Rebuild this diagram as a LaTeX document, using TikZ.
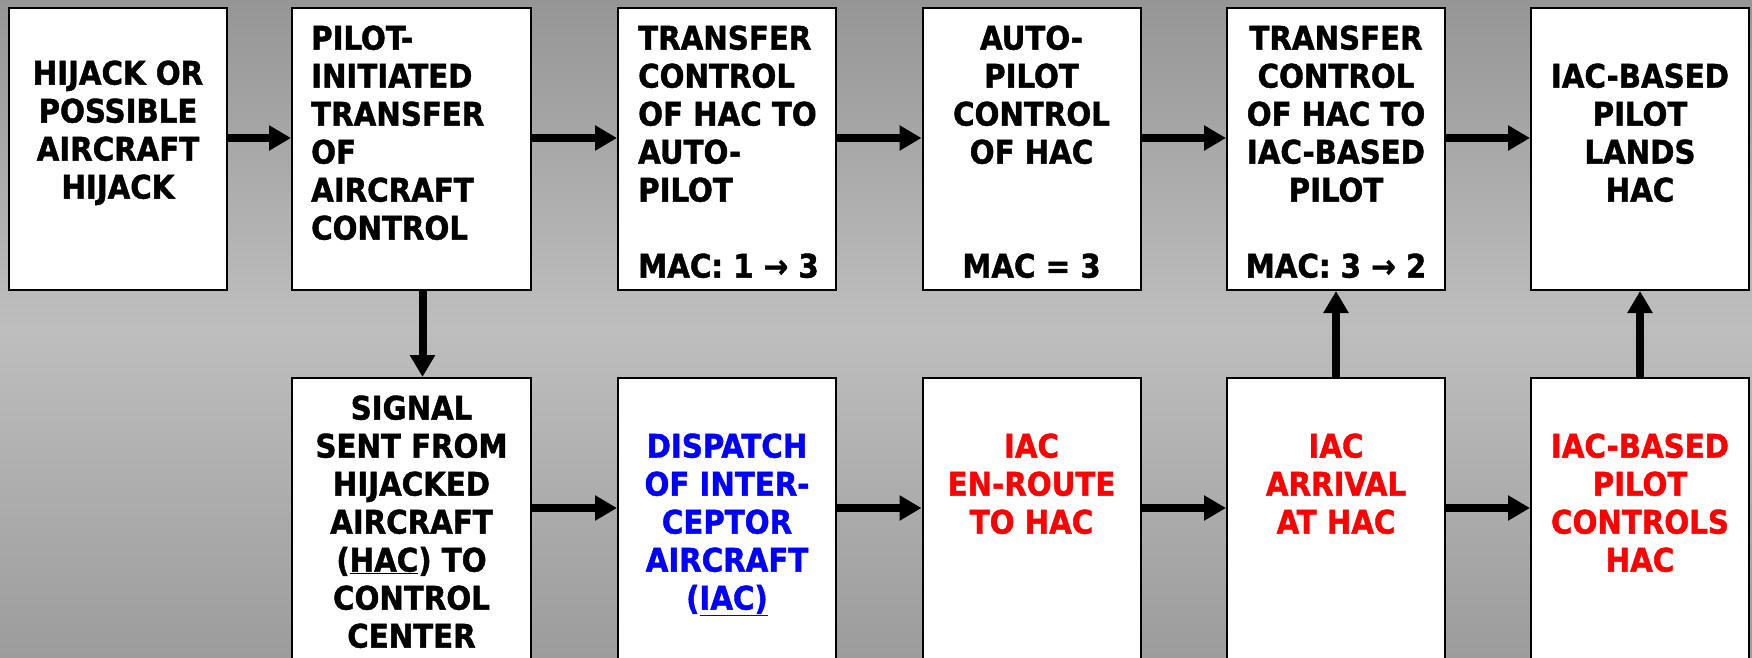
\documentclass[tikz,border=0pt]{standalone}
\usepackage{fontspec}
\setmainfont{DejaVu Sans Condensed}[BoldFeatures={FakeBold=1.3}]
\usetikzlibrary{arrows.meta}
\definecolor{bgtop}{RGB}{150,150,150}
\definecolor{bgmid}{RGB}{190,190,190}
\definecolor{bgbot}{RGB}{156,156,156}
\definecolor{tblue}{RGB}{0,0,255}
\definecolor{tred}{RGB}{255,0,0}
\tikzset{
  box/.style={draw=black, line width=2pt, fill=white, inner sep=0pt, minimum width=218pt},
  topbox/.style={box, minimum height=282pt},
  botbox/.style={box, minimum height=302pt},
  txt/.style={inner sep=0pt, anchor=base, font=\fontsize{32.5}{38}\selectfont\bfseries},
  arr/.style={line width=8pt, -{Triangle[length=22pt,width=24pt]}}
}
\begin{document}
\begin{tikzpicture}[x=1pt,y=-1pt]
\clip (0,0) rectangle (1752,657);
\shade[top color=bgtop, bottom color=bgbot, middle color=bgmid] (0,0) rectangle (1752,657);
% top row boxes
\node[topbox] (t1) at (118,149) {};
\node[topbox, minimum width=239pt] (t2) at (411.5,149) {};
\node[topbox] (t3) at (727,149) {};
\node[topbox] (t4) at (1031.5,149) {};
\node[topbox] (t5) at (1336,149) {};
\node[topbox] (t6) at (1640,149) {};
% bottom row boxes
\node[botbox, minimum width=239pt] (s1) at (411.5,529) {};
\node[botbox] (s2) at (727,529) {};
\node[botbox] (s3) at (1031.5,529) {};
\node[botbox] (s4) at (1336,529) {};
\node[botbox] (s5) at (1640,529) {};
% texts (anchor base = baseline of the last line)
\node[txt, align=center] (x1) at (118,198.6) {HIJACK OR\\POSSIBLE\\AIRCRAFT\\HIJACK};
\node[txt, align=left, anchor=base west] (x2) at (311,239.6) {PILOT-\\INITIATED\\TRANSFER\\OF\\AIRCRAFT\\CONTROL};
\node[txt, align=left, anchor=base west] (x3) at (638,277.6) {TRANSFER\\CONTROL\\OF HAC TO\\AUTO-\\PILOT\\[38pt]MAC: 1 → 3};
\node[txt, align=center] (x4) at (1031.5,277.6) {AUTO-\\PILOT\\CONTROL\\OF HAC\\[76pt]MAC = 3};
\node[txt, align=center] (x5) at (1336,277.6) {TRANSFER\\CONTROL\\OF HAC TO\\IAC-BASED\\PILOT\\[38pt]MAC: 3 → 2};
\node[txt, align=center] (x6) at (1640,201.6) {IAC-BASED\\PILOT\\LANDS\\HAC};
\node[txt, align=center] (y1) at (411.5,647.6) {SIGNAL\\SENT FROM\\HIJACKED\\AIRCRAFT\\(\underline{HAC}) TO\\CONTROL\\CENTER};
\node[txt, align=center, text=tblue] (y2) at (727,609.6) {DISPATCH\\OF INTER-\\CEPTOR\\AIRCRAFT\\(\underline{IAC)}};
\node[txt, align=center, text=tred] (y3) at (1031.5,533.6) {IAC\\EN-ROUTE\\TO HAC};
\node[txt, align=center, text=tred] (y4) at (1336,533.6) {IAC\\ARRIVAL\\AT HAC};
\node[txt, align=center, text=tred] (y5) at (1640,571.6) {IAC-BASED\\PILOT\\CONTROLS\\HAC};
% connectors
\draw[arr] ([yshift=11pt]t1.east) -- ([yshift=11pt]t2.west);
\draw[arr] ([yshift=11pt]t2.east) -- ([yshift=11pt]t3.west);
\draw[arr] ([yshift=11pt]t3.east) -- ([yshift=11pt]t4.west);
\draw[arr] ([yshift=11pt]t4.east) -- ([yshift=11pt]t5.west);
\draw[arr] ([yshift=11pt]t5.east) -- ([yshift=11pt]t6.west);
\draw[arr] ([xshift=11pt]t2.south) -- ([xshift=11pt]s1.north);
\draw[arr] ([yshift=21pt]s1.east) -- ([yshift=21pt]s2.west);
\draw[arr] ([yshift=21pt]s2.east) -- ([yshift=21pt]s3.west);
\draw[arr] ([yshift=21pt]s3.east) -- ([yshift=21pt]s4.west);
\draw[arr] ([yshift=21pt]s4.east) -- ([yshift=21pt]s5.west);
\draw[arr] (s4.north) -- (t5.south);
\draw[arr] (s5.north) -- (t6.south);
\end{tikzpicture}
\end{document}
